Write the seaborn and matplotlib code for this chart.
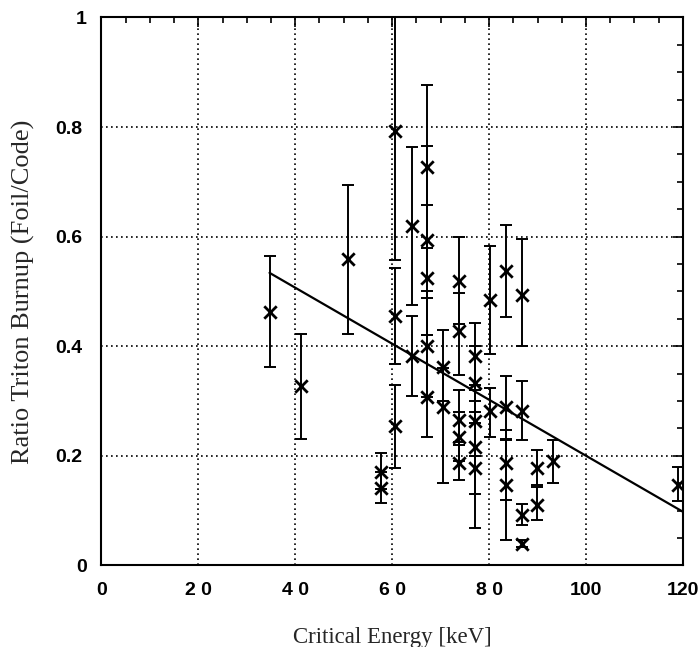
import matplotlib
matplotlib.use("Agg")
import matplotlib.pyplot as plt
import matplotlib.transforms as mtransforms
import seaborn as sns
import pandas as pd
from matplotlib.ticker import MultipleLocator

# ---- data ----
energy = [34.7, 41.1, 50.9, 57.6, 57.6, 60.6, 60.6, 60.6, 64.1, 64.1,
          67.2, 67.2, 67.2, 67.2, 67.2, 70.5, 70.5, 73.7, 73.7, 73.7,
          73.7, 73.7, 77.0, 77.0, 77.0, 77.0, 77.0, 80.2, 80.2, 83.5,
          83.5, 83.5, 83.5, 86.7, 86.7, 86.7, 86.7, 89.9, 89.9, 93.1,
          118.9]
ratio = [0.462, 0.328, 0.560, 0.171, 0.141, 0.793, 0.456, 0.254, 0.619, 0.383,
         0.727, 0.594, 0.525, 0.400, 0.307, 0.363, 0.290, 0.519, 0.427, 0.266,
         0.235, 0.187, 0.382, 0.333, 0.263, 0.217, 0.178, 0.485, 0.281, 0.537,
         0.289, 0.187, 0.147, 0.494, 0.281, 0.092, 0.040, 0.178, 0.111, 0.190,
         0.147]
ratio_low = [0.363, 0.231, 0.423, 0.140, 0.114, 0.558, 0.368, 0.178, 0.476, 0.309,
             0.580, 0.489, 0.420, 0.307, 0.235, 0.300, 0.150, 0.440, 0.348, 0.220,
             0.190, 0.156, 0.320, 0.260, 0.200, 0.130, 0.068, 0.385, 0.235, 0.454,
             0.230, 0.120, 0.047, 0.400, 0.229, 0.074, 0.033, 0.147, 0.083, 0.150,
             0.117]
ratio_high = [0.565, 0.423, 0.695, 0.205, 0.170, 1.050, 0.542, 0.330, 0.763, 0.456,
              0.877, 0.766, 0.657, 0.500, 0.420, 0.429, 0.360, 0.600, 0.498, 0.320,
              0.280, 0.225, 0.443, 0.400, 0.330, 0.300, 0.280, 0.583, 0.324, 0.622,
              0.346, 0.248, 0.229, 0.596, 0.336, 0.112, 0.047, 0.210, 0.144, 0.229,
              0.180]

fit_energy = [34.7, 120.0]
fit_ratio = [0.534, 0.098]

x_ticks = [0, 20, 40, 60, 80, 100, 120]
x_tick_labels = ["0", "2 0", "4 0", "6 0", "8 0", "100", "120"]
y_ticks = [0, 0.2, 0.4, 0.6, 0.8, 1.0]
y_tick_labels = ["0", "0.2", "0.4", "0.6", "0.8", "1"]

df = pd.DataFrame({"energy": energy, "ratio": ratio,
                   "low": ratio_low, "high": ratio_high})
fit = pd.DataFrame({"energy": fit_energy, "ratio": fit_ratio})

sns.set_style("white")
fig = plt.figure(figsize=(6.99, 6.47), dpi=100)
ax = fig.add_axes([0.145, 0.126, 0.832, 0.847])

# error bars
ax.errorbar(df["energy"], df["ratio"],
            yerr=[df["ratio"] - df["low"], df["high"] - df["ratio"]],
            fmt="none", ecolor="black", elinewidth=1.4, capsize=4.5, capthick=1.4,
            zorder=3)
sns.scatterplot(data=df, x="energy", y="ratio", marker="x", color="black",
                s=80, linewidth=2.0, ax=ax, zorder=4)
sns.lineplot(data=fit, x="energy", y="ratio", color="black", linewidth=1.6,
             ax=ax, zorder=3)

ax.set_xlim(0, 120)
ax.set_ylim(0, 1)
ax.set_xticks(x_ticks)
ax.set_xticklabels(x_tick_labels, fontfamily="Liberation Sans",
                   fontweight="bold", fontsize=14)
ax.set_yticks(y_ticks)
ax.set_yticklabels(y_tick_labels, fontfamily="Liberation Sans",
                   fontweight="bold", fontsize=14)
ax.xaxis.set_minor_locator(MultipleLocator(5))
ax.yaxis.set_minor_locator(MultipleLocator(0.05))
ax.tick_params(which="both", direction="in", top=True, right=True,
               colors="black", width=1.2)
ax.tick_params(which="major", length=7)
ax.tick_params(axis="x", which="major", pad=12)
ax.tick_params(axis="y", which="major", pad=14)
ax.tick_params(which="minor", length=4)

# individual nudges of the y tick labels "0" and "1" as in the original
ylabels = ax.get_yticklabels()
shift_px = {0: 5, 5: 5}
for i, dx in shift_px.items():
    off = mtransforms.ScaledTranslation(dx / 100, 0, fig.dpi_scale_trans)
    ylabels[i].set_transform(ylabels[i].get_transform() + off)

for v in x_ticks[1:-1]:
    ax.axvline(v, color="black", linestyle=(0, (1, 2)), linewidth=1.2, zorder=1)
for v in y_ticks[1:-1]:
    ax.axhline(v, color="black", linestyle=(0, (1, 2)), linewidth=1.2, zorder=1)

for sp in ax.spines.values():
    sp.set_color("black")
    sp.set_linewidth(1.5)

ax.set_xlabel("Critical Energy [keV]", fontfamily="Liberation Serif",
              fontsize=16.5, labelpad=20)
ax.set_ylabel("Ratio Triton Burnup (Foil/Code)", fontfamily="Liberation Serif",
              fontsize=19)
ax.yaxis.set_label_coords(-0.114, 0.5)

fig.savefig("out.png", dpi=100, facecolor="white")
